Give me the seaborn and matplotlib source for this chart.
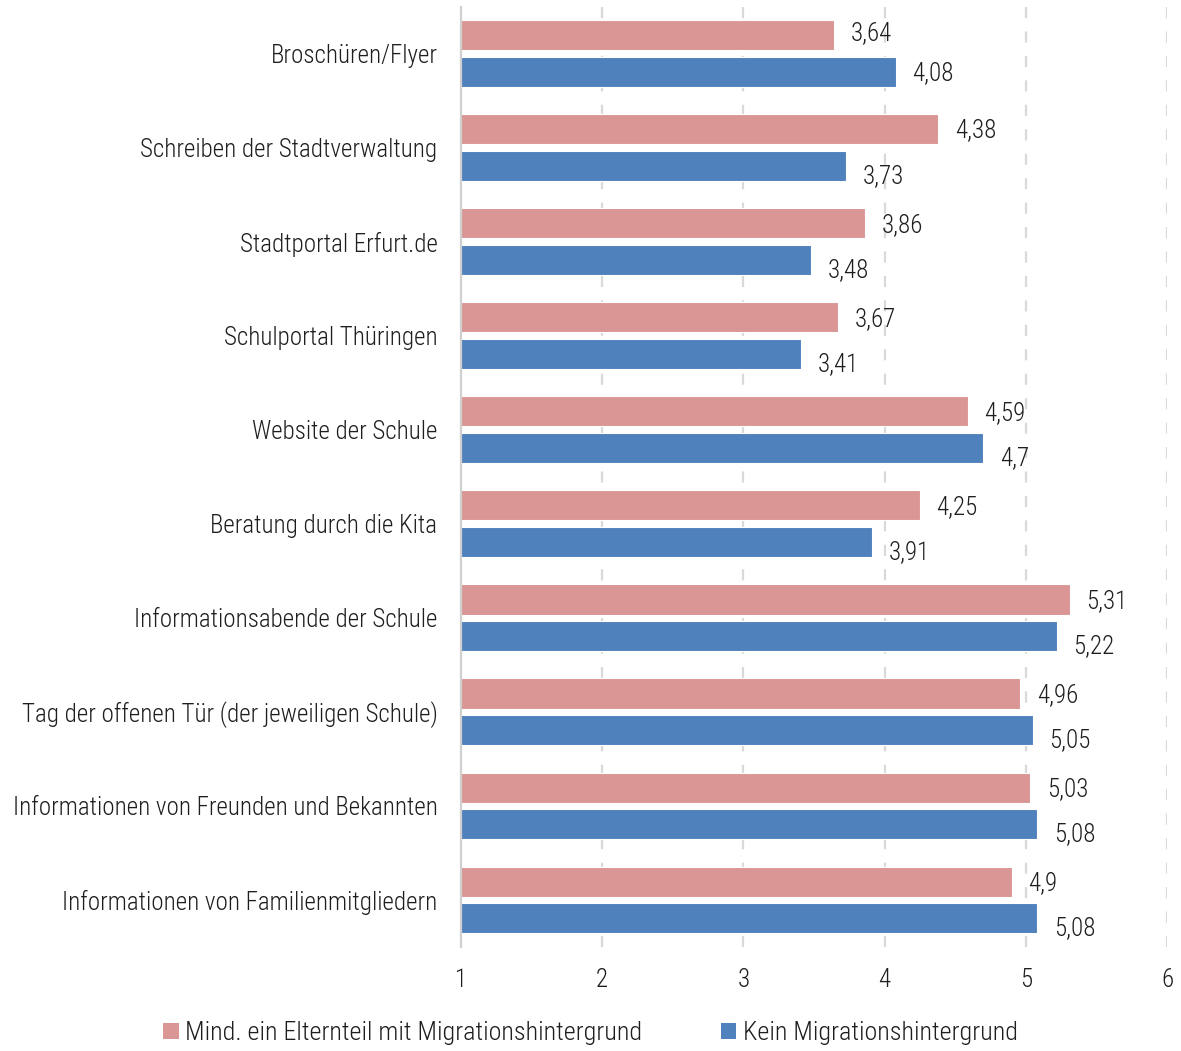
import matplotlib
matplotlib.use("Agg")
import matplotlib.pyplot as plt
import seaborn as sns
import pandas as pd
from matplotlib.patches import Patch
from matplotlib import font_manager

categories = [
    "Broschüren/Flyer",
    "Schreiben der Stadtverwaltung",
    "Stadtportal Erfurt.de",
    "Schulportal Thüringen",
    "Website der Schule",
    "Beratung durch die Kita",
    "Informationsabende der Schule",
    "Tag der offenen Tür (der jeweiligen Schule)",
    "Informationen von Freunden und Bekannten",
    "Informationen von Familienmitgliedern",
]
series_names = ["Mind. ein Elternteil mit Migrationshintergrund", "Kein Migrationshintergrund"]
values_mig = [3.64, 4.38, 3.86, 3.67, 4.59, 4.25, 5.31, 4.96, 5.03, 4.90]
values_kein = [4.08, 3.73, 3.48, 3.41, 4.70, 3.91, 5.22, 5.05, 5.08, 5.08]
x_ticks = [1, 2, 3, 4, 5, 6]

colors = ["#DA9694", "#4F81BD"]
text_color = "#1E1E1E"

sns.set_theme(style="white")
avail = {f.name for f in font_manager.fontManager.ttflist}
fams = [f for f in ["Roboto Condensed", "Liberation Sans Narrow"] if f in avail]
plt.rcParams["font.family"] = fams + ["Liberation Sans", "DejaVu Sans"]
plt.rcParams["font.weight"] = 300
FS = 18

df = pd.DataFrame({
    "Kategorie": categories * 2,
    "Wert": values_mig + values_kein,
    "Gruppe": [series_names[0]] * len(categories) + [series_names[1]] * len(categories),
})

fig = plt.figure(figsize=(11.81, 10.51), dpi=100)
ax = fig.add_axes([461 / 1181, 1 - 947 / 1051, (1167 - 461) / 1181, (947 - 6.5) / 1051])

sns.barplot(data=df, y="Kategorie", x="Wert", hue="Gruppe", orient="h",
            palette=colors, saturation=1, width=0.78, gap=0.18, ax=ax,
            edgecolor="white", linewidth=0.8, legend=False, errorbar=None)

ax.set_xlim(1, 6)
ax.set_ylim(len(categories) - 0.5, -0.5)
ax.set_xticks(x_ticks)
ax.set_xticklabels([str(t) for t in x_ticks])
ax.set_xlabel("")
ax.set_ylabel("")

for t in x_ticks[1:]:
    ax.axvline(t, color="#D9D9D9", lw=1.6, ls=(0, (5, 6)), zorder=0)

for s in ["top", "right", "bottom"]:
    ax.spines[s].set_visible(False)
ax.spines["left"].set_color("#D0D0D0")
ax.spines["left"].set_linewidth(1.6)

ax.tick_params(axis="x", length=0, pad=15, labelsize=FS, labelcolor=text_color)
ax.tick_params(axis="y", length=0, pad=17, labelsize=FS, labelcolor=text_color)

# value labels
for ci, cont in enumerate(ax.containers):
    for i, bar in enumerate(cont):
        v = bar.get_width()
        yc = bar.get_y() + bar.get_height() / 2
        dy = -1
        if ci == 1 and not (values_kein[i] - values_mig[i] > 0.3):
            dy = -7
        if ci == 0 and (values_kein[i] - values_mig[i] > 0.3):
            dy = 1.5
        lab = f"{v:g}".replace(".", ",")
        ax.annotate(lab, xy=(v, yc), xytext=(12, dy), textcoords="offset points",
                    ha="left", va="center", fontsize=FS, color=text_color)

handles = [Patch(facecolor=c, edgecolor="none") for c in colors]
fig.legend(handles, series_names, loc="center", bbox_to_anchor=(0.5, 1 - 1033 / 1051),
           ncol=2, frameon=False, fontsize=18.8, handlelength=0.6, handleheight=0.6,
           handletextpad=0.25, columnspacing=3.0, labelcolor=text_color)

fig.savefig("out.png", dpi=100)
